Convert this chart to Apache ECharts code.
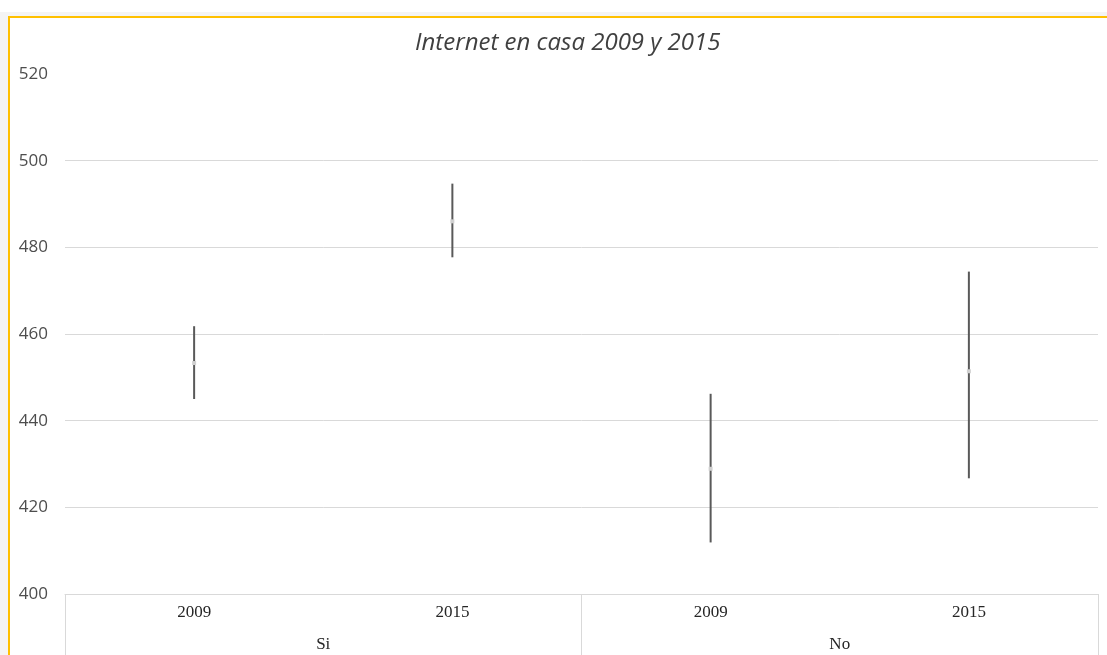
<!DOCTYPE html>
<html>
<head>
<meta charset="utf-8">
<script src="https://cdn.jsdelivr.net/npm/echarts@6/dist/echarts.min.js"></script>
<style>
html,body{margin:0;padding:0;background:#fff;}
#c{width:1107px;height:655px;}
</style>
</head>
<body>
<div id="c"></div>
<script>
var years = ['2009', '2015', '2009', '2015'];
var groups = ['Si', 'No'];
var lowValues  = [445.0, 477.7, 411.9, 426.7];
var highValues = [461.8, 494.7, 446.2, 474.4];
var meanValues = [453.3, 486.0, 428.9, 451.4];
var yTicks = [400, 420, 440, 460, 480, 500, 520];

var chart = echarts.init(document.getElementById('c'));
var seriesData = years.map(function (y, i) {
  return [i, lowValues[i], highValues[i], meanValues[i]];
});

chart.setOption({
  animation: false,
  backgroundColor: '#ffffff',
  title: {
    text: 'Internet en casa 2009 y 2015',
    left: 410,
    top: 26,
    textStyle: { fontFamily: 'Open Sans', fontStyle: 'italic', fontWeight: 'normal', fontSize: 24, color: '#404040' }
  },
  graphic: [
    { type: 'rect', silent: true, z: -10, shape: { x: 0, y: 0, width: 1107, height: 655 }, style: { fill: '#f4f4f4' } },
    { type: 'rect', silent: true, z: -9, shape: { x: 0, y: 0, width: 1107, height: 12 }, style: { fill: '#ffffff' } },
    { type: 'rect', silent: true, z: -8, shape: { x: 9, y: 17, width: 1200, height: 700 }, style: { fill: '#ffffff', stroke: '#FFC000', lineWidth: 2 } }
  ],
  grid: { left: 65, right: 9, top: 74, bottom: 61, containLabel: false },
  xAxis: [
    {
      type: 'category',
      data: years,
      position: 'bottom',
      axisLine: { show: true, lineStyle: { color: '#d9d9d9', width: 1 } },
      axisTick: { show: false },
      axisLabel: { margin: 10, fontFamily: 'Liberation Serif', fontSize: 17, color: '#262626' }
    },
    {
      type: 'category',
      data: groups,
      position: 'bottom',
      axisLine: { show: false },
      axisTick: { show: true, length: 70, interval: 0, lineStyle: { color: '#d9d9d9', width: 1 } },
      axisLabel: { margin: 42, fontFamily: 'Liberation Serif', fontSize: 17, color: '#262626' }
    }
  ],
  yAxis: {
    type: 'value',
    min: 400,
    max: 520,
    interval: 20,
    axisLine: { show: false },
    axisTick: { show: false },
    axisLabel: { margin: 17, fontFamily: 'Open Sans', fontSize: 17, color: '#4d4d4d',
      formatter: function (v) { return yTicks.indexOf(v) >= 0 ? String(v) : ''; } },
    splitLine: { show: true, lineStyle: { color: ['#d9d9d9', '#d9d9d9', '#d9d9d9', '#d9d9d9', '#d9d9d9', '#d9d9d9', 'rgba(0,0,0,0)'], width: 1 } }
  },
  series: [{
    type: 'custom',
    xAxisIndex: 0,
    yAxisIndex: 0,
    data: seriesData,
    encode: { x: 0, y: [1, 2, 3] },
    renderItem: function (params, api) {
      var x = api.value(0);
      var lo = api.coord([x, api.value(1)]);
      var hi = api.coord([x, api.value(2)]);
      var mid = api.coord([x, api.value(3)]);
      return {
        type: 'group',
        children: [
          { type: 'line', shape: { x1: lo[0], y1: lo[1], x2: hi[0], y2: hi[1] }, style: { stroke: '#595959', lineWidth: 2 } },
          { type: 'rect', shape: { x: mid[0] - 2, y: mid[1] - 2, width: 4, height: 4 }, style: { fill: '#d0d0d0' } }
        ]
      };
    }
  }]
});
</script>
</body>
</html>
